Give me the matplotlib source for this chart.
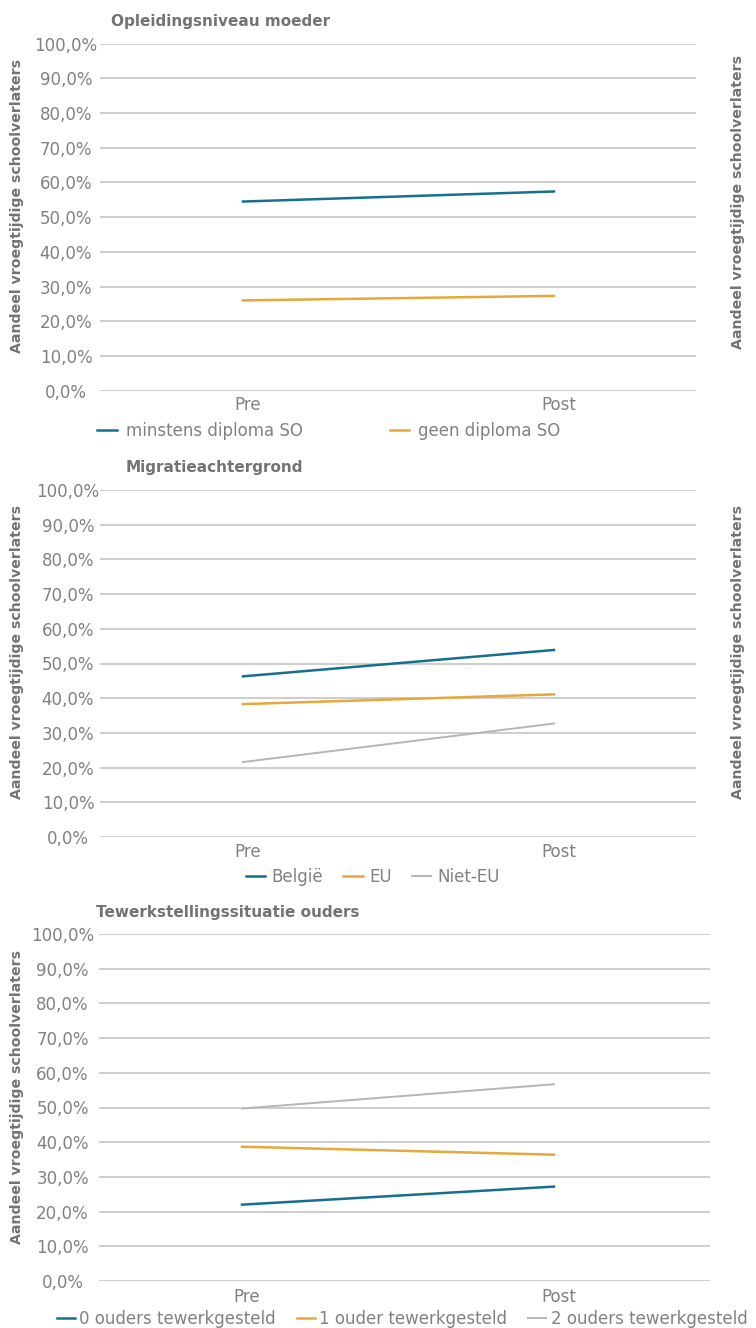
import matplotlib
matplotlib.use('Agg')
import matplotlib.pyplot as plt
from matplotlib.ticker import FuncFormatter
from matplotlib.transforms import ScaledTranslation

plt.rcParams['font.family'] = ['DejaVu Sans']

# ---------------- data ----------------
categories = ['Pre', 'Post']
y_ticks = [0, 10, 20, 30, 40, 50, 60, 70, 80, 90, 100]
y_label = 'Aandeel vroegtijdige schoolverlaters'

title_mother = 'Opleidingsniveau moeder'
labels_mother = ['minstens diploma SO', 'geen diploma SO']
mother_min_diploma = [54.5, 57.4]
mother_geen_diploma = [26.0, 27.3]

title_migr = 'Migratieachtergrond'
labels_migr = ['België', 'EU', 'Niet-EU']
migr_belgie = [46.3, 53.9]
migr_eu = [38.3, 41.1]
migr_niet_eu = [21.6, 32.7]

title_work = 'Tewerkstellingssituatie ouders'
labels_work = ['0 ouders tewerkgesteld', '1 ouder tewerkgesteld', '2 ouders tewerkgesteld']
work_0 = [22.0, 27.2]
work_1 = [38.7, 36.4]
work_2 = [49.7, 56.7]

# ---------------- style ----------------
BLUE = '#156f8e'
ORANGE = '#e6a83a'
GREY = '#b5b5b5'
GRID = '#c9c9c9'
TICK_C = '#818181'
TITLE_C = '#737373'
FS = 12

W, H = 756, 1328
fig = plt.figure(figsize=(W / 100, H / 100), dpi=100)
fig.patch.set_facecolor('white')


def fx(x):
    return x / W


def fy(y):
    return 1 - y / H


def add_panel(x0, x1, ytop, ybot, pre_px, post_px, ylab_center_px, xpad_pt):
    ax = fig.add_axes([fx(x0), fy(ybot), fx(x1 - x0), (ybot - ytop) / H])
    unit = post_px - pre_px
    ax.set_xlim(-(pre_px - x0) / unit, 1 + (x1 - post_px) / unit)
    ax.set_ylim(0, 100)
    ax.set_yticks(y_ticks)
    ax.yaxis.set_major_formatter(FuncFormatter(lambda v, p: f"{v:.1f}".replace('.', ',') + '%'))
    ax.set_xticks(range(len(categories)))
    ax.set_xticklabels(categories)
    for s in ax.spines.values():
        s.set_visible(False)
    ax.grid(axis='y', color=GRID, linewidth=1.3)
    ax.set_axisbelow(True)
    pad_px = x0 - ylab_center_px
    ax.tick_params(axis='y', length=0, pad=pad_px * 0.72, labelsize=FS, labelcolor=TICK_C)
    ax.tick_params(axis='x', length=0, pad=xpad_pt, labelsize=FS, labelcolor=TICK_C)
    for lbl in ax.get_yticklabels():
        lbl.set_horizontalalignment('center')
    shift = ScaledTranslation(5 / 100, 0, fig.dpi_scale_trans)
    for lbl in ax.get_xticklabels():
        lbl.set_transform(lbl.get_transform() + shift)
    return ax


# Panel 1
ax1 = add_panel(100, 696, 43.7, 390.6, 243, 554, 66, 4.0)
ax1.plot(range(2), mother_min_diploma, color=BLUE, lw=1.8, label=labels_mother[0])
ax1.plot(range(2), mother_geen_diploma, color=ORANGE, lw=1.8, label=labels_mother[1])
ax1.legend(loc='center', bbox_to_anchor=(fx(329), fy(431)), bbox_transform=fig.transFigure,
           ncol=2, frameon=False, fontsize=FS, labelcolor=TICK_C, handlelength=1.15,
           handletextpad=0.57, columnspacing=5.2, borderpad=0, borderaxespad=0)

# Panel 2
ax2 = add_panel(100, 696, 490, 837, 243, 554, 68, 4.0)
ax2.plot(range(2), migr_belgie, color=BLUE, lw=1.8, label=labels_migr[0])
ax2.plot(range(2), migr_eu, color=ORANGE, lw=1.8, label=labels_migr[1])
ax2.plot(range(2), migr_niet_eu, color=GREY, lw=1.4, label=labels_migr[2])
ax2.legend(loc='center', bbox_to_anchor=(fx(373), fy(877)), bbox_transform=fig.transFigure,
           ncol=3, frameon=False, fontsize=FS, labelcolor=TICK_C, handlelength=1.15,
           handletextpad=0.4, columnspacing=1.2, borderpad=0, borderaxespad=0)

# Panel 3
ax3 = add_panel(99, 710, 934, 1281, 242, 554, 62.5, 5.0)
ax3.plot(range(2), work_0, color=BLUE, lw=1.8, label=labels_work[0])
ax3.plot(range(2), work_1, color=ORANGE, lw=1.8, label=labels_work[1])
ax3.plot(range(2), work_2, color=GREY, lw=1.4, label=labels_work[2])
ax3.legend(loc='center', bbox_to_anchor=(fx(402), fy(1319)), bbox_transform=fig.transFigure,
           ncol=3, frameon=False, fontsize=FS, labelcolor=TICK_C, handlelength=1.1,
           handletextpad=0.25, columnspacing=1.25, borderpad=0, borderaxespad=0)

# Titles
for t, x, y in [(title_mother, 111, 21.7), (title_migr, 126, 468), (title_work, 96, 912)]:
    fig.text(fx(x), fy(y), t, ha='left', va='center', fontsize=11, fontweight='bold', color=TITLE_C)

# Left y labels
for yc in [206, 652, 1097]:
    fig.text(fx(17), fy(yc), y_label, rotation=90, ha='center', va='center',
             fontsize=10.2, fontweight='bold', color=TITLE_C)

# Right y labels (clipped at right edge)
clip_ax = fig.add_axes([0, 0, 744 / W, 1])
clip_ax.axis('off')
for yc in [202, 652]:
    clip_ax.text(742 / 744, fy(yc), y_label, rotation=90, rotation_mode='anchor',
                 ha='center', va='baseline',
                 fontsize=10.2, fontweight='bold', color=TITLE_C, clip_on=True,
                 transform=clip_ax.transAxes)

fig.savefig('out.png', dpi=100, facecolor='white')
